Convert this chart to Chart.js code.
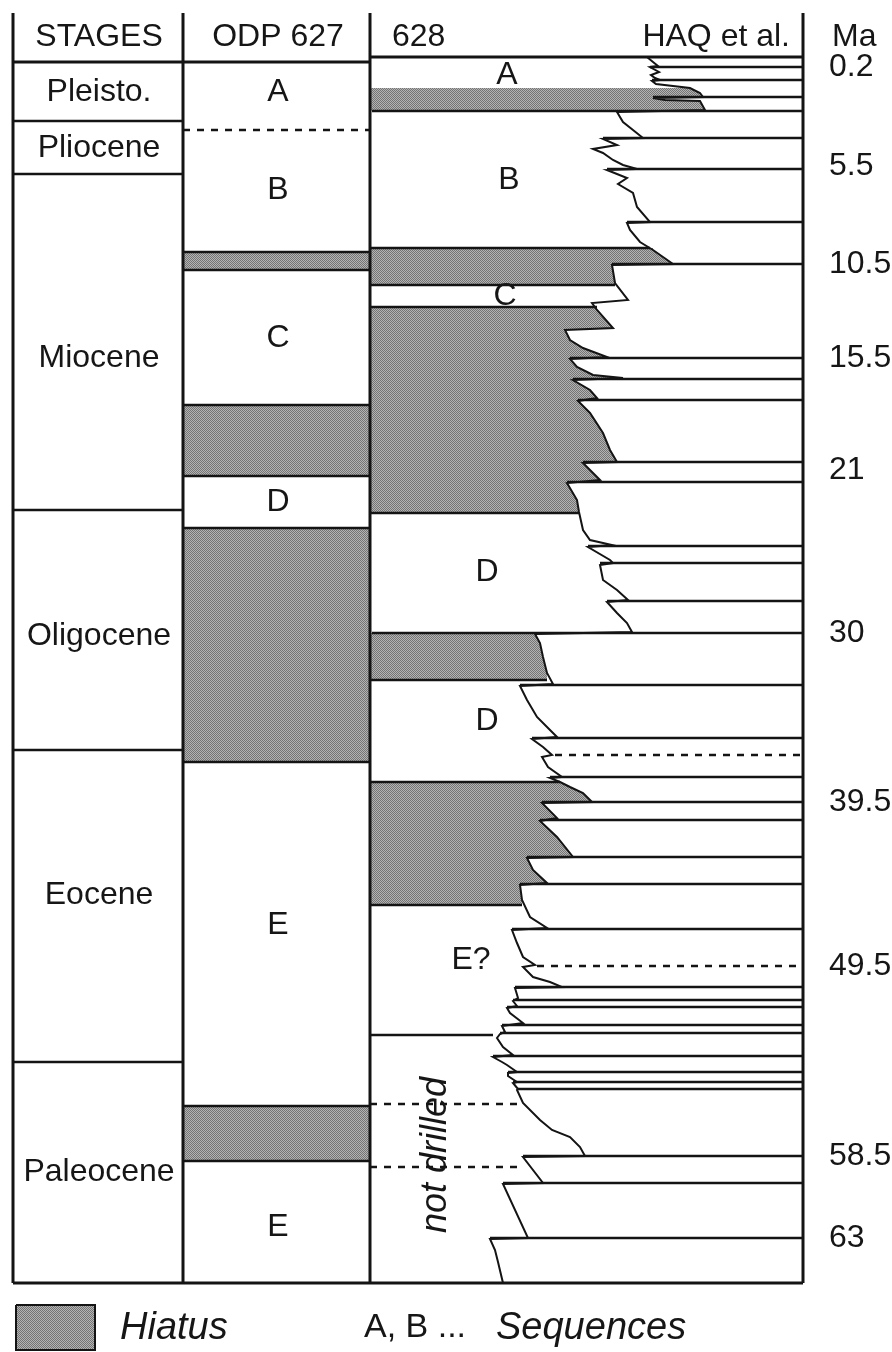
<!DOCTYPE html>
<html>
<head>
<meta charset="utf-8">
<script src="https://cdn.jsdelivr.net/npm/chart.js@4.4.0/dist/chart.umd.min.js"></script>
<style>
  html, body { margin: 0; padding: 0; background: #fff; }
  #wrap { width: 892px; height: 1352px; }
</style>
</head>
<body>
<div id="wrap"><canvas id="chart" width="892" height="1352"></canvas></div>
<script>
// the figure is a stratigraphic column, so both axes are drawing units:
// x runs 0..892 across the sheet, y runs 0..1352 down the sheet

// stages column
const stageNames = ['Pleisto.', 'Pliocene', 'Miocene', 'Oligocene', 'Eocene', 'Paleocene']
const stageBounds = [62, 121, 174, 510, 750, 1062, 1283]
const stageLabelY = [92, 148, 358, 636, 895, 1172]

// ODP 627
const odpLabels = ['A', 'B', 'C', 'D', 'E', 'E']
const odpLabelY = [92, 190, 338, 502, 925, 1227]
const odpHiatus = [[252, 270], [405, 476], [528, 762], [1106, 1161]]
const odpDashed = [130]

// site 628
const site628Labels = ['A', 'B', 'C', 'D', 'D', 'E?']
const site628LabelPos = [[507, 75], [509, 180], [505, 296], [487, 572], [487, 721], [471, 960]]
const hiatus628 = [[88, 111], [248, 285], [307, 513], [633, 680], [782, 905]]
const site628Lines = [[248, 650], [285, 615], [307, 597], [513, 579], [680, 547], [782, 560], [905, 522], [1035, 493]]
const notDrilledDashed = [[1104, 523], [1167, 523]]

// Haq et al. sawtooth curve, one run of [x, y] per sequence
const haqSegments = [
  [[647, 57], [653, 62], [658, 66]],
  [[650, 67], [659, 72], [651, 75], [655, 78], [660, 80]],
  [[652, 81], [656, 84], [690, 88], [700, 93], [703, 97]],
  [[653, 98], [665, 100], [700, 101], [705, 110]],
  [[617, 112], [623, 122], [633, 130], [643, 138]],
  [[603, 139], [617, 145], [593, 149], [603, 153], [613, 160], [623, 165], [637, 169]],
  [[607, 170], [627, 178], [618, 184], [633, 193], [637, 207], [650, 222]],
  [[627, 223], [630, 230], [640, 242], [653, 250], [663, 257], [673, 264]],
  [[612, 265], [615, 283], [628, 300], [592, 303], [597, 310], [613, 328], [565, 330], [570, 340], [583, 348], [607, 357]],
  [[570, 359], [577, 367], [593, 375], [623, 378]],
  [[573, 380], [590, 390], [597, 398]],
  [[578, 401], [590, 413], [603, 433], [610, 450], [617, 462]],
  [[583, 463], [600, 480]],
  [[567, 483], [577, 500], [579, 512], [583, 530], [590, 540], [612, 545]],
  [[588, 547], [610, 560], [613, 563]],
  [[600, 565], [603, 580], [617, 590], [628, 600]],
  [[607, 602], [617, 613], [627, 623], [632, 632]],
  [[535, 634], [540, 643], [543, 657], [547, 673], [553, 684]],
  [[520, 686], [527, 700], [537, 717], [550, 730], [557, 737]],
  [[532, 739], [543, 747], [552, 755], [542, 757], [548, 767], [562, 777]],
  [[550, 778], [560, 782], [570, 787], [583, 793], [590, 800], [592, 802]],
  [[542, 803], [557, 818]],
  [[540, 821], [557, 837], [573, 857]],
  [[527, 858], [533, 870], [547, 883]],
  [[520, 885], [522, 900], [530, 917], [547, 928]],
  [[512, 930], [517, 943], [523, 957], [535, 965], [523, 967], [533, 977], [550, 982], [562, 987]],
  [[515, 988], [518, 998]],
  [[513, 1001], [517, 1006]],
  [[507, 1008], [510, 1013], [523, 1023]],
  [[502, 1026], [505, 1032]],
  [[500, 1034], [497, 1038], [503, 1047], [513, 1055]],
  [[493, 1057], [502, 1062], [507, 1065], [517, 1072]],
  [[508, 1073], [508, 1076], [517, 1082]],
  [[513, 1083], [518, 1089]],
  [[517, 1090], [523, 1103], [540, 1120], [552, 1130], [570, 1137], [580, 1147], [585, 1156]],
  [[523, 1157], [543, 1183]],
  [[503, 1184], [528, 1238]],
  [[490, 1239], [495, 1250], [498, 1262], [503, 1283]]
]
// sequence boundaries: [y, x where the line leaves the curve]
const haqBounds = [[67, 650], [80, 652], [97, 653], [111, 372], [138, 603], [169, 607], [222, 627], [264, 612],
  [358, 570], [379, 573], [400, 578], [462, 583], [482, 567], [546, 588], [563, 600], [601, 607], [633, 372],
  [685, 520], [738, 532], [777, 550], [802, 542], [820, 540], [857, 527], [884, 520], [929, 512], [987, 515],
  [1000, 513], [1007, 507], [1025, 502], [1033, 500], [1056, 493], [1072, 508], [1082, 513], [1089, 517],
  [1156, 523], [1183, 503], [1238, 490]]
const haqDashed = [[755, 555], [966, 537]]

// age labels on the right
const maLabels = ['0.2', '5.5', '10.5', '15.5', '21', '30', '39.5', '49.5', '58.5', '63']
const maLabelY = [67, 166, 264, 358, 470, 633, 802, 966, 1156, 1238]

const headers = ['STAGES', 'ODP 627', '628', 'HAQ et al.', 'Ma']

// column edges
const colX = [13, 183, 370, 803]
const headTop = 13
const frameBottom = stageBounds[stageBounds.length - 1]

const FONT = "'Liberation Sans', Arial, sans-serif"

function hiatusPattern(){
    const c = document.createElement('canvas')
    c.width = 2
    c.height = 2
    const g = c.getContext('2d')
    g.fillStyle = '#b4b4b4'
    g.fillRect(0, 0, 2, 2)
    g.fillStyle = '#747474'
    g.fillRect(0, 0, 1, 1)
    g.fillRect(1, 1, 1, 1)
    return g.createPattern(c, 'repeat')
}
const grey = hiatusPattern()

function line(pts, width, dash){
    return {
        type: 'line',
        data: pts.map(p => ({x: p[0], y: p[1]})),
        borderColor: '#141414',
        borderWidth: width,
        borderDash: dash || [],
        pointRadius: 0,
        fill: false,
        order: 1
    }
}

function area(pts, border){
    return {
        type: 'line',
        data: pts.map(p => ({x: p[0], y: p[1]})),
        borderColor: border ? '#141414' : 'rgba(0,0,0,0)',
        borderWidth: border ? 2 : 0,
        backgroundColor: grey,
        pointRadius: 0,
        fill: 'shape',
        order: 5
    }
}

const curve = haqSegments.flat()
const datasets = []

// grey hiatus in 628, bounded on the right by the curve
hiatus628.forEach(([top, bottom]) => {
    const inside = curve.filter(p => p[1] > top - 0.5 && p[1] < bottom + 0.5)
    const first = inside[0], last = inside[inside.length - 1]
    datasets.push(area([[colX[2], top], [first[0], top], ...inside, [last[0], bottom], [colX[2], bottom]]))
})
// grey hiatus in 627
odpHiatus.forEach(([top, bottom]) => {
    datasets.push(area([[colX[1], top], [colX[2], top], [colX[2], bottom], [colX[1], bottom]]))
    datasets.push(line([[colX[1], top], [colX[2], top]], 2.5))
    datasets.push(line([[colX[1], bottom], [colX[2], bottom]], 2.5))
})
// legend swatch
datasets.push(area([[16, 1305], [95, 1305], [95, 1350], [16, 1350], [16, 1305]], true))

// frame
colX.forEach(x => datasets.push(line([[x, headTop], [x, frameBottom]], 3)))
datasets.push(line([[colX[0], stageBounds[0]], [colX[2], stageBounds[0]]], 3))
datasets.push(line([[colX[2], 57], [colX[3], 57]], 3))
datasets.push(line([[colX[0], frameBottom], [colX[3], frameBottom]], 3))
stageBounds.slice(1, -1).forEach(y => datasets.push(line([[colX[0], y], [colX[1], y]], 2.5)))
odpDashed.forEach(y => datasets.push(line([[colX[1], y], [colX[2], y]], 2.5, [7, 7])))

// 628 column
site628Lines.forEach(([y, x1]) => datasets.push(line([[colX[2], y], [x1, y]], 2.5)))
notDrilledDashed.forEach(([y, x1]) => datasets.push(line([[colX[2], y], [x1, y]], 2.5, [7, 7])))

// Haq curve and its boundaries
haqBounds.forEach(([y, x0]) => datasets.push(line([[x0, y], [colX[3], y]], 2.5)))
haqDashed.forEach(([y, x0]) => datasets.push(line([[x0, y], [colX[3], y]], 2.5, [7, 7])))
datasets.push(line(curve, 2))

const figureText = {
    id: 'figureText',
    afterDatasetsDraw(chart){
        const {ctx, scales: {x, y}} = chart
        const put = (str, px, py, align, font, rot) => {
            ctx.save()
            ctx.fillStyle = '#161616'
            ctx.font = font || '32px ' + FONT
            ctx.textAlign = align || 'center'
            ctx.textBaseline = 'middle'
            ctx.translate(x.getPixelForValue(px), y.getPixelForValue(py))
            if(rot) ctx.rotate(rot)
            ctx.fillText(str, 0, 0)
            ctx.restore()
        }

        put(headers[0], 99, 37)
        put(headers[1], 278, 37)
        put(headers[2], 392, 37, 'left')
        put(headers[3], 790, 37, 'right')
        put(headers[4], 832, 37, 'left')

        stageNames.forEach((s, i) => put(s, 99, stageLabelY[i]))
        odpLabels.forEach((s, i) => put(s, 278, odpLabelY[i]))
        site628Labels.forEach((s, i) => put(s, site628LabelPos[i][0], site628LabelPos[i][1]))
        put('not drilled', 436, 1155, 'center', 'italic 36px ' + FONT, -Math.PI / 2)
        maLabels.forEach((s, i) => put(s, 829, maLabelY[i], 'left'))

        put('Hiatus', 120, 1328, 'left', 'italic 38px ' + FONT)
        put('A, B ...', 364, 1328, 'left', '34px ' + FONT)
        put('Sequences', 496, 1328, 'left', 'italic 38px ' + FONT)
    }
}

new Chart(document.getElementById('chart'), {
    type: 'line',
    data: {datasets},
    options: {
        responsive: false,
        animation: false,
        devicePixelRatio: 1,
        layout: {padding: 0},
        elements: {line: {tension: 0}, point: {radius: 0}},
        plugins: {legend: {display: false}, tooltip: {enabled: false}},
        scales: {
            x: {type: 'linear', min: 0, max: 892, display: false},
            y: {type: 'linear', min: 0, max: 1352, reverse: true, display: false}
        }
    },
    plugins: [figureText]
})
</script>
</body>
</html>
